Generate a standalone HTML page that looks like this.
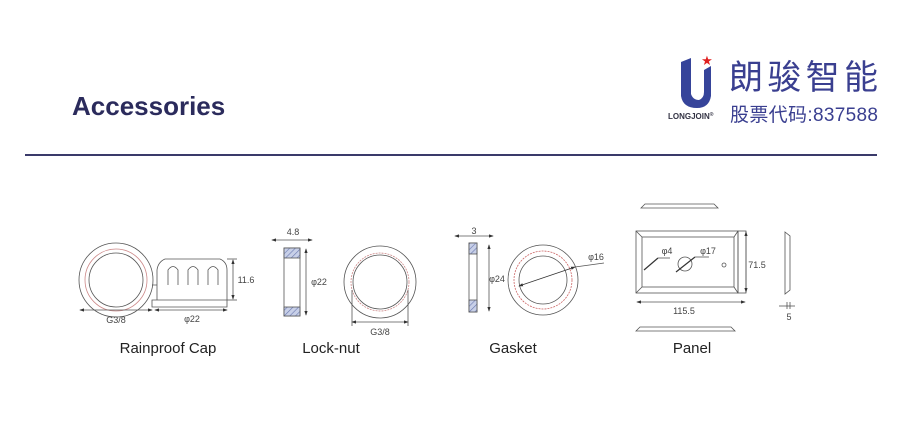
<!DOCTYPE html>
<html><head><meta charset="utf-8"><style>
body{margin:0;background:#fff;width:900px;height:439px;overflow:hidden}
svg{display:block}
text{font-family:"Liberation Sans",sans-serif}
</style></head><body>
<svg width="900" height="439" viewBox="0 0 900 439" xmlns="http://www.w3.org/2000/svg">
<defs>
<pattern id="h" width="4" height="4" patternUnits="userSpaceOnUse" patternTransform="rotate(45)">
<rect width="4" height="4" fill="#c8d0e8"/><line x1="0" y1="0" x2="0" y2="4" stroke="#6a78b0" stroke-width="1.2"/></pattern>
<marker id="a" markerWidth="6" markerHeight="6" refX="5" refY="3" orient="auto-start-reverse"><path d="M0,1 L6,3 L0,5z" fill="#333"/></marker>
</defs>
<text x="72" y="115" font-size="26" font-weight="bold" fill="#2b2b5c">Accessories</text>
<line x1="25" y1="155" x2="877" y2="155" stroke="#3a3a6a" stroke-width="2"/>
<!-- logo -->
<path d="M681,62 L691,58 L691,94 Q693,100 699,100 Q704,98 704,92 L704,70 L711,66 L711,96 Q709,108 697,108 Q683,108 681,96 Z" fill="#36449a"/>
<text x="707" y="65" font-size="13" fill="#e02020" text-anchor="middle">★</text>
<text x="668" y="119" font-size="8" font-weight="bold" fill="#334">LONGJOIN<tspan font-size="5" dy="-3">®</tspan></text>
<text x="729" y="89" font-size="34" fill="#3a3f90" font-family="'Noto Serif CJK SC',serif" textLength="149">朗骏智能</text>
<text x="730" y="121" font-size="19" fill="#3a3f90" font-family="'Noto Serif CJK SC','Liberation Serif',serif" textLength="148">股票代码:837588</text>
<g fill="none" stroke="#555" stroke-width="0.8">
<!-- rainproof cap -->
<circle cx="116" cy="280" r="37"/><circle cx="116" cy="280" r="31" stroke="#c88"/><circle cx="116" cy="280" r="27"/>
<path d="M157,300 L157,270 Q158,262 165,259 L220,259 Q227,262 227,270 L227,300 M152,300 L227,300 L227,307 L152,307 Z M152,285 L157,285"/>
<path d="M168,285 L168,270 Q173,263 178,270 L178,285 M188,285 L188,270 Q193,263 198,270 L198,285 M208,285 L208,270 Q213,263 218,270 L218,285"/>
<line x1="227" y1="259" x2="237" y2="259"/><line x1="227" y1="300" x2="237" y2="300"/>
<line x1="233" y1="260" x2="233" y2="299" marker-start="url(#a)" marker-end="url(#a)"/>
<line x1="80" y1="310" x2="152" y2="310" marker-start="url(#a)" marker-end="url(#a)"/>
<line x1="155" y1="310" x2="227" y2="310" marker-start="url(#a)" marker-end="url(#a)"/>
<!-- locknut -->
<rect x="284" y="248" width="16" height="68"/>
<rect x="284" y="248" width="16" height="10" fill="url(#h)"/><rect x="284" y="307" width="16" height="9" fill="url(#h)"/>
<line x1="272" y1="240" x2="312" y2="240" marker-start="url(#a)" marker-end="url(#a)"/>
<line x1="306" y1="249" x2="306" y2="315" marker-start="url(#a)" marker-end="url(#a)"/>
<circle cx="380" cy="282" r="36"/><circle cx="380" cy="282" r="29" stroke="#c88" stroke-dasharray="2,1"/><circle cx="380" cy="282" r="27"/>
<line x1="352" y1="322" x2="408" y2="322" marker-start="url(#a)" marker-end="url(#a)"/>
<line x1="352" y1="290" x2="352" y2="326"/><line x1="408" y1="290" x2="408" y2="326"/>
<!-- gasket -->
<rect x="469" y="243" width="8" height="69"/>
<rect x="469" y="243" width="8" height="11" fill="url(#h)"/><rect x="469" y="300" width="8" height="12" fill="url(#h)"/>
<line x1="455" y1="236" x2="493" y2="236" marker-start="url(#a)" marker-end="url(#a)"/>
<line x1="489" y1="245" x2="489" y2="311" marker-start="url(#a)" marker-end="url(#a)"/>
<circle cx="543" cy="280" r="35"/><circle cx="543" cy="280" r="29" stroke="#c66" stroke-dasharray="2,1"/><circle cx="543" cy="280" r="24"/>
<line x1="519" y1="286" x2="575" y2="267" stroke="#333" marker-start="url(#a)" marker-end="url(#a)"/>
<line x1="575" y1="267" x2="604" y2="263"/>
<!-- panel -->
<path d="M641,208 L645,204 L714,204 L718,208 Z"/>
<rect x="636" y="231" width="102" height="62"/><rect x="642" y="237" width="92" height="50"/>
<line x1="636" y1="231" x2="642" y2="237"/><line x1="738" y1="231" x2="734" y2="237"/><line x1="636" y1="293" x2="642" y2="287"/><line x1="738" y1="293" x2="734" y2="287"/>
<rect x="738" y="231" width="8" height="62"/>
<line x1="746" y1="232" x2="746" y2="292" marker-start="url(#a)" marker-end="url(#a)"/>
<line x1="637" y1="302" x2="745" y2="302" marker-start="url(#a)" marker-end="url(#a)"/>
<path d="M636,331 L640,327 L731,327 L735,331 Z"/>
<path d="M785,232 L790,236 L790,290 L785,294 Z"/>
<line x1="779" y1="306" x2="795" y2="306"/><line x1="787" y1="302" x2="787" y2="309"/><line x1="790" y1="302" x2="790" y2="309"/>
<circle cx="685" cy="264" r="7"/><circle cx="724" cy="265" r="2"/>
<line x1="676" y1="272" x2="695" y2="257" stroke="#333" stroke-width="1.2"/><line x1="695" y1="257" x2="709" y2="257"/>
<line x1="644" y1="270" x2="658" y2="258" stroke="#333" stroke-width="1.2"/><line x1="658" y1="258" x2="670" y2="258"/>
</g>
<g font-size="9" fill="#444" text-anchor="middle">
<text x="116" y="323">G3/8</text><text x="192" y="322">φ22</text><text x="246" y="283">11.6</text>
<text x="293" y="235">4.8</text><text x="319" y="285">φ22</text><text x="380" y="335">G3/8</text>
<text x="474" y="234">3</text><text x="497" y="282">φ24</text><text x="596" y="260">φ16</text>
<text x="667" y="254">φ4</text><text x="708" y="254">φ17</text><text x="757" y="268">71.5</text>
<text x="684" y="314">115.5</text><text x="789" y="320">5</text>
</g>
<g font-size="15" fill="#222" text-anchor="middle">
<text x="168" y="353">Rainproof Cap</text><text x="331" y="353">Lock-nut</text>
<text x="513" y="353">Gasket</text><text x="692" y="353">Panel</text>
</g>
</svg>
</body></html>
